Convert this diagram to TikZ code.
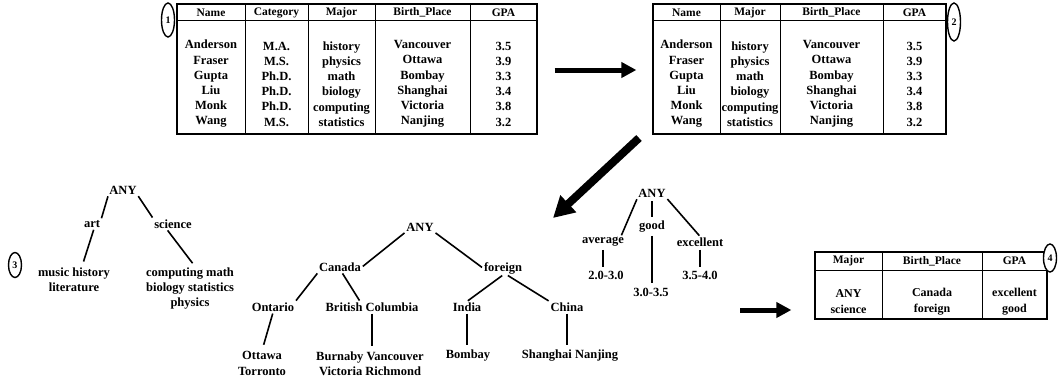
\documentclass[tikz,border=0pt]{standalone}
\usepackage{fontspec}
\setmainfont{Liberation Serif}
\usetikzlibrary{arrows.meta,shapes.geometric}
\begin{document}
\begin{tikzpicture}[x=1pt,y=-1pt]
\tikzset{
  lbl/.style={font=\fontsize{12.5}{15.2}\selectfont\bfseries, inner sep=1pt, align=center},
  head/.style={font=\fontsize{11.5}{12}\selectfont\bfseries, inner sep=1pt},
  tframe/.style={draw, line width=1.2pt, inner sep=0pt},
  rule/.style={line width=1pt},
  link/.style={line width=1.6pt, shorten <=1pt, shorten >=1pt},
  tag/.style={ellipse, draw, line width=1.4pt, inner sep=0pt, fill=white,
              font=\fontsize{10}{10}\selectfont\bfseries},
  fatarrow/.style={line width=5pt, -{Triangle[length=15pt,width=15pt]}},
  hugearrow/.style={line width=8pt, -{Triangle[length=21pt,width=22pt]}},
}
\useasboundingbox (0,0) rectangle (1058,380);

% ---------- table 1: initial relation ----------
\node[tframe, minimum width=360, minimum height=130] (t1) at (357,69) {};
\draw[rule] (t1.west |- 0,20) -- (t1.east |- 0,20);
\foreach \x in {245,308,375,470} \draw[rule] (\x,4) -- (\x,134);
\node[head] (t1h1) at (211,12.5) {Name};
\node[head] (t1h2) at (276.5,12.5) {Category};
\node[head] (t1h3) at (341.5,12.5) {Major};
\node[head] (t1h4) at (422.5,12.5) {Birth\_Place};
\node[head] (t1h5) at (503.5,12.5) {GPA};
\node[lbl] (t1c1) at (211,84) {Anderson\\Fraser\\Gupta\\Liu\\Monk\\Wang};
\node[lbl] (t1c2) at (276.5,84) {M.A.\\M.S.\\Ph.D.\\Ph.D.\\Ph.D.\\M.S.};
\node[lbl] (t1c3) at (341.5,84) {history\\physics\\math\\biology\\computing\\statistics};
\node[lbl] (t1c4) at (422.5,84) {Vancouver\\Ottawa\\Bombay\\Shanghai\\Victoria\\Nanjing};
\node[lbl] (t1c5) at (503.5,84) {3.5\\3.9\\3.3\\3.4\\3.8\\3.2};
\node[tag, minimum width=13, minimum height=34] (tag1) at (168,20) {1};

% ---------- table 2: after attribute removal ----------
\node[tframe, minimum width=293, minimum height=130] (t2) at (799.5,69) {};
\draw[rule] (t2.west |- 0,20) -- (t2.east |- 0,20);
\foreach \x in {720,780,883} \draw[rule] (\x,4) -- (\x,134);
\node[head] (t2h1) at (686.5,12.5) {Name};
\node[head] (t2h2) at (750,12.5) {Major};
\node[head] (t2h3) at (831.5,12.5) {Birth\_Place};
\node[head] (t2h4) at (914.5,12.5) {GPA};
\node[lbl] (t2c1) at (686.5,84) {Anderson\\Fraser\\Gupta\\Liu\\Monk\\Wang};
\node[lbl] (t2c2) at (750,84) {history\\physics\\math\\biology\\computing\\statistics};
\node[lbl] (t2c3) at (831.5,84) {Vancouver\\Ottawa\\Bombay\\Shanghai\\Victoria\\Nanjing};
\node[lbl] (t2c4) at (914.5,84) {3.5\\3.9\\3.3\\3.4\\3.8\\3.2};
\node[tag, minimum width=13, minimum height=38] (tag2) at (954,22) {2};

\draw[fatarrow] (t1.east |- 0,70) ++(17,0) -- ([xshift=-16pt]t2.west |- 0,70);

% ---------- concept hierarchy for Major ----------
\node[lbl] (la) at (123,190) {ANY};
\node[lbl] (lart) at (92,224) {art};
\node[lbl] (lsci) at (173,224) {science};
\node[lbl] (lartl) at (74,279.5) {music history\\literature};
\node[lbl] (lscil) at (190,288.5) {computing math\\biology statistics\\physics};
\node[tag, minimum width=13, minimum height=25] (tag3) at (15,265) {3};
\draw[link] (la.south west) -- (lart.north east);
\draw[link] (la.south east) -- (lsci.north west);
\draw[link, shorten >=5pt] ([xshift=2pt]lart.south) -- ([xshift=8pt]lartl.north);
\draw[link, shorten >=4pt] ([xshift=-6pt]lsci.south) -- ([xshift=5pt]lscil.north);

% ---------- concept hierarchy for Birth_Place ----------
\node[lbl] (ma) at (420,227) {ANY};
\node[lbl] (mcan) at (340,267) {Canada};
\node[lbl] (mfor) at (503,268) {foreign};
\node[lbl] (mont) at (273,307) {Ontario};
\node[lbl] (mbc) at (372,307) {British Columbia};
\node[lbl] (mind) at (467,307) {India};
\node[lbl] (mchi) at (567,307) {China};
\node[lbl] (mott) at (262,363.5) {Ottawa\\Torronto};
\node[lbl] (mbcl) at (370,363.5) {Burnaby Vancouver\\Victoria Richmond};
\node[lbl] (mbom) at (468,356) {Bombay};
\node[lbl] (mshn) at (570,356) {Shanghai Nanjing};
\draw[link] (ma.south west) -- (mcan.east);
\draw[link] (ma.south east) -- (mfor.west);
\draw[link] (mcan.south west) -- (mont.north east);
\draw[link] ([xshift=2pt]mcan.south) -- ([xshift=-12pt]mbc.north);
\draw[link] (mfor.south) -- (mind.north);
\draw[link] ([xshift=4pt]mfor.south) -- (mchi.north west);
\draw[link, shorten >=6pt] (mont.south) -- (mott.north);
\draw[link, shorten >=4pt] (mbc.south) -- (mbc.south |- mbcl.north);
\draw[link, shorten >=4pt] (mind.south) -- (mind.south |- mbom.north);
\draw[link, shorten >=4pt] (mchi.south) -- (mchi.south |- mshn.north);

% ---------- concept hierarchy for GPA ----------
\node[lbl] (ra) at (652,193) {ANY};
\node[lbl] (ravg) at (603,242) {average};
\node[lbl] (rgood) at (652,227) {good};
\node[lbl] (rexc) at (700,242) {excellent};
\node[lbl] (ra1) at (606,275) {2.0-3.0};
\node[lbl] (rg1) at (651,292) {3.0-3.5};
\node[lbl] (re1) at (700,275) {3.5-4.0};
\draw[link] (ra.south west) -- ([xshift=-4pt]ravg.north east);
\draw[link, shorten <=3pt, shorten >=3pt] (ra.south) -- (rgood.north);
\draw[link] (ra.south east) -- (rexc.north);
\draw[link, shorten <=2pt, shorten >=3pt] (ravg.south) -- (ravg.south |- ra1.north);
\draw[link, shorten <=2pt, shorten >=4pt] (rgood.south) -- (rgood.south |- rg1.north);
\draw[link, shorten <=2pt, shorten >=3pt] (rexc.south) -- (rexc.south |- re1.north);

\coordinate (dstart) at (639,138);
\coordinate (dend) at (553,218);
\draw[hugearrow] (dstart) -- (dend);

% ---------- table 4: generalized relation ----------
\node[tframe, minimum width=232, minimum height=67] (t4) at (931,285.5) {};
\draw[rule] (t4.west |- 0,270) -- (t4.east |- 0,270);
\foreach \x in {882,982} \draw[rule] (\x,252) -- (\x,319);
\node[head] (t4h1) at (848.5,261) {Major};
\node[head] (t4h2) at (932,261) {Birth\_Place};
\node[head] (t4h3) at (1014.5,261) {GPA};
\node[lbl, font=\fontsize{12}{16}\selectfont\bfseries] (t4c1) at (848.5,302) {ANY\\science};
\node[lbl, font=\fontsize{12}{16}\selectfont\bfseries] (t4c2) at (932,302) {Canada\\foreign};
\node[lbl, font=\fontsize{12}{16}\selectfont\bfseries] (t4c3) at (1014.5,302) {excellent\\good};
\node[tag, minimum width=13, minimum height=28] (tag4) at (1050,258) {4};

\coordinate (fstart) at (740,310);
\draw[fatarrow] (fstart) -- ([xshift=-23pt]t4.west |- 0,310);
\end{tikzpicture}
\end{document}
